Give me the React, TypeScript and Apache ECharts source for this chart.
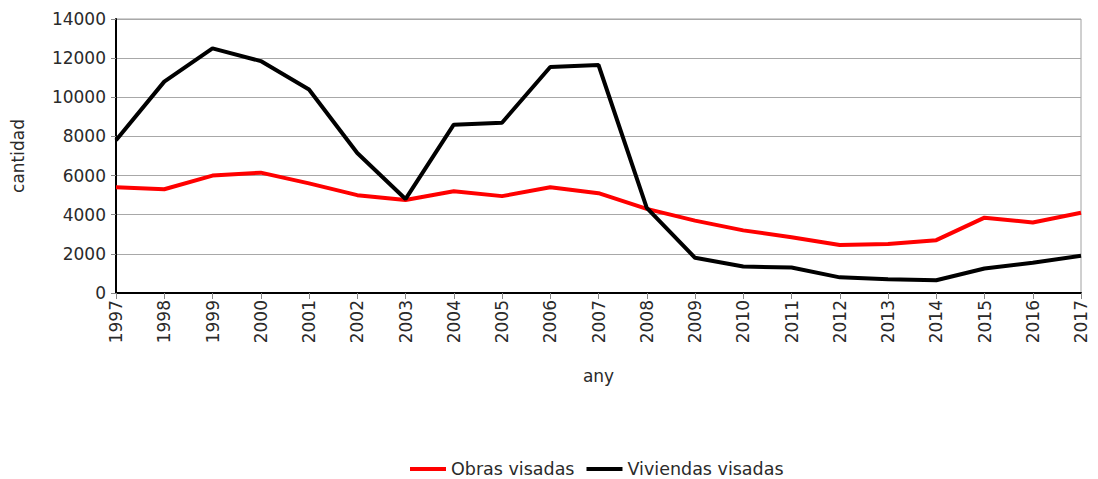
import React, { useEffect, useRef } from "react";
import * as echarts from "echarts";

const years = ["1997","1998","1999","2000","2001","2002","2003","2004","2005","2006","2007","2008","2009","2010","2011","2012","2013","2014","2015","2016","2017"];
const obras = [5400,5300,6000,6150,5600,5000,4750,5200,4950,5400,5100,4300,3700,3200,2850,2450,2500,2700,3850,3600,4100];
const viviendas = [7800,10800,12500,11850,10400,7150,4800,8600,8700,11550,11650,4350,1800,1350,1300,800,700,650,1250,1550,1900];

const FONT = "DejaVu Sans";
const TXT = "#2a2a2a";

export default function App() {
  const ref = useRef<HTMLDivElement>(null);
  useEffect(() => {
    const chart = echarts.init(ref.current!, null, { renderer: "svg" });
    chart.setOption({
      animation: false,
      textStyle: { fontFamily: FONT },
      grid: { left: 116, right: 17, top: 19, bottom: 186, show: true, borderColor: "#a0a0a0", borderWidth: 1 },
      legend: {
        top: 455,
        left: 405,
        itemWidth: 36,
        itemHeight: 4,
        itemGap: 12,
        icon: "rect",
        textStyle: { fontSize: 17.5, color: TXT, fontFamily: FONT },
        data: ["Obras visadas", "Viviendas visadas"],
      },
      xAxis: {
        type: "category",
        data: years,
        boundaryGap: false,
        name: "any",
        nameLocation: "middle",
        nameGap: 74,
        nameTextStyle: { fontSize: 17, color: TXT, fontFamily: FONT },
        axisLine: { lineStyle: { color: "#000", width: 2 } },
        axisTick: { show: true, alignWithLabel: true, length: 6, lineStyle: { color: "#888" } },
        axisLabel: { rotate: 90, fontSize: 17, color: TXT, margin: 7, interval: 0, fontFamily: FONT },
        splitLine: { show: false },
      },
      yAxis: {
        type: "value",
        min: 0,
        max: 14000,
        interval: 2000,
        name: "cantidad",
        nameLocation: "middle",
        nameGap: 90,
        nameRotate: 90,
        nameTextStyle: { fontSize: 17, color: TXT, fontFamily: FONT },
        axisLine: { show: true, lineStyle: { color: "#000", width: 2 } },
        axisTick: { show: true, length: 5, lineStyle: { color: "#888" } },
        axisLabel: { fontSize: 17, color: TXT, margin: 10, fontFamily: FONT, formatter: (v: number) => String(v) },
        splitLine: { show: true, lineStyle: { color: "#a8a8a8", width: 1 } },
      },
      series: [
        { name: "Obras visadas", type: "line", data: obras, showSymbol: false, symbol: "none", lineStyle: { color: "#ff0000", width: 4 }, itemStyle: { color: "#ff0000" } },
        { name: "Viviendas visadas", type: "line", data: viviendas, showSymbol: false, symbol: "none", lineStyle: { color: "#000000", width: 4 }, itemStyle: { color: "#000000" } },
      ],
    });
    return () => chart.dispose();
  }, []);
  return <div ref={ref} style={{ width: 1098, height: 479, position: "absolute", left: 0, top: 0 }} />;
}
